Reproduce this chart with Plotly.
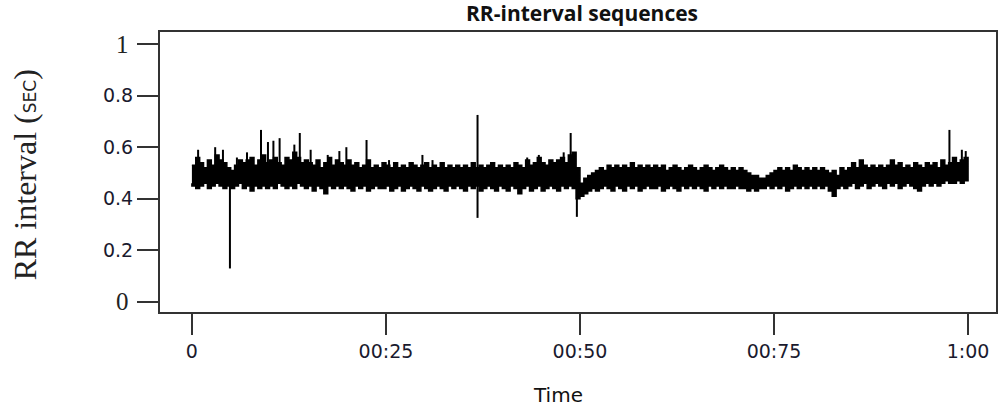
import plotly.graph_objects as go

# ---- data ----
step = 0.005
upper = [0.53,0.56,0.54,0.52,0.55,0.53,0.57,0.55,0.54,0.52,
         0.51,0.53,0.55,0.54,0.55,0.56,0.53,0.55,0.57,0.54,
         0.55,0.56,0.54,0.53,0.56,0.55,0.58,0.56,0.54,0.55,
         0.54,0.53,0.55,0.52,0.54,0.56,0.53,0.55,0.54,0.53,
         0.55,0.53,0.54,0.52,0.53,0.55,0.52,0.53,0.52,0.54,
         0.53,0.52,0.54,0.52,0.53,0.52,0.54,0.53,0.52,0.53,
         0.54,0.52,0.53,0.52,0.54,0.52,0.53,0.52,0.53,0.52,
         0.53,0.52,0.54,0.52,0.53,0.52,0.53,0.54,0.52,0.53,
         0.52,0.53,0.52,0.54,0.53,0.52,0.55,0.53,0.54,0.56,
         0.54,0.53,0.55,0.54,0.55,0.56,0.54,0.57,0.58,0.52,
         0.46,0.48,0.49,0.50,0.51,0.52,0.51,0.53,0.52,0.53,
         0.52,0.53,0.52,0.54,0.52,0.53,0.52,0.53,0.52,0.53,
         0.52,0.53,0.51,0.52,0.53,0.52,0.51,0.52,0.53,0.52,
         0.51,0.52,0.53,0.52,0.51,0.52,0.53,0.52,0.51,0.52,
         0.51,0.52,0.51,0.50,0.49,0.49,0.48,0.48,0.49,0.50,
         0.51,0.52,0.51,0.52,0.51,0.53,0.52,0.51,0.52,0.51,
         0.52,0.51,0.52,0.51,0.50,0.51,0.49,0.52,0.51,0.52,
         0.54,0.52,0.55,0.53,0.52,0.53,0.52,0.53,0.52,0.53,
         0.55,0.53,0.54,0.52,0.53,0.52,0.54,0.53,0.52,0.54,
         0.53,0.54,0.52,0.55,0.53,0.54,0.56,0.54,0.55,0.56,0.55]
lower = [0.46,0.45,0.44,0.45,0.46,0.44,0.45,0.46,0.45,0.44,
         0.45,0.44,0.45,0.46,0.44,0.45,0.43,0.45,0.44,0.45,
         0.44,0.45,0.44,0.46,0.45,0.44,0.45,0.44,0.46,0.45,
         0.44,0.45,0.43,0.45,0.44,0.42,0.45,0.44,0.45,0.44,
         0.45,0.44,0.43,0.45,0.44,0.45,0.43,0.44,0.45,0.44,
         0.44,0.45,0.43,0.44,0.45,0.43,0.44,0.45,0.44,0.43,
         0.45,0.44,0.43,0.44,0.45,0.44,0.43,0.45,0.44,0.45,
         0.44,0.43,0.45,0.44,0.45,0.43,0.44,0.45,0.44,0.43,
         0.45,0.44,0.43,0.45,0.44,0.42,0.44,0.45,0.43,0.44,
         0.45,0.43,0.44,0.45,0.44,0.43,0.45,0.44,0.45,0.44,
         0.40,0.41,0.42,0.43,0.44,0.43,0.44,0.45,0.44,0.43,
         0.45,0.44,0.43,0.45,0.44,0.45,0.43,0.44,0.45,0.44,
         0.44,0.45,0.43,0.44,0.45,0.44,0.43,0.45,0.44,0.45,
         0.44,0.45,0.44,0.43,0.45,0.44,0.45,0.44,0.45,0.44,
         0.44,0.45,0.44,0.44,0.43,0.44,0.43,0.44,0.44,0.45,
         0.44,0.45,0.44,0.45,0.43,0.44,0.45,0.44,0.45,0.44,
         0.45,0.44,0.45,0.44,0.45,0.43,0.41,0.44,0.45,0.44,
         0.45,0.46,0.44,0.45,0.46,0.44,0.45,0.46,0.45,0.44,
         0.46,0.45,0.46,0.44,0.45,0.46,0.45,0.44,0.43,0.45,
         0.46,0.45,0.46,0.45,0.46,0.47,0.46,0.46,0.47,0.46,0.47]

spike_t  = [0.008,0.030,0.040,0.049,0.058,0.071,0.089,0.098,0.105,0.113,0.132,0.139,
            0.153,0.175,0.190,0.199,0.225,0.254,0.297,0.310,0.368,0.432,0.447,0.479,
            0.488,0.496,0.976,0.992,0.997]
spike_lo = [0.50,0.50,0.50,0.13,0.50,0.50,0.50,0.50,0.50,0.50,0.50,0.50,
            0.50,0.50,0.50,0.50,0.50,0.50,0.50,0.50,0.326,0.50,0.50,0.50,
            0.50,0.33,0.50,0.50,0.50]
spike_hi = [0.59,0.60,0.59,0.48,0.56,0.58,0.667,0.62,0.625,0.635,0.61,0.655,
            0.59,0.57,0.585,0.60,0.628,0.55,0.57,0.55,0.725,0.56,0.57,0.58,
            0.655,0.48,0.667,0.59,0.585]

x_tickvals = [0, 0.25, 0.5, 0.75, 1]
x_ticktext = ["0", "00:25", "00:50", "00:75", "1:00"]
y_tickvals = [0, 0.2, 0.4, 0.6, 0.8, 1]
y_ticktext = ["", "0.2", "0.4", "0.6", "0.8", ""]
y_serif_vals = [0, 1]
y_serif_text = ["0", "1"]

# ---- build figure ----
t_up = [i * step for i in range(len(upper))]
t_lo = [i * step for i in range(len(lower))]

fig = go.Figure()
fig.add_trace(go.Scatter(
    x=t_up + t_lo[::-1], y=upper + lower[::-1],
    fill="toself", fillcolor="black", mode="lines", line_shape="hv",
    line=dict(color="black", width=1.5), hoverinfo="skip", showlegend=False))

sx, sy = [], []
for t, lo, hi in zip(spike_t, spike_lo, spike_hi):
    sx += [t, t, None]
    sy += [lo, hi, None]
fig.add_trace(go.Scatter(x=sx, y=sy, mode="lines",
                         line=dict(color="black", width=2),
                         hoverinfo="skip", showlegend=False))

axis_common = dict(showgrid=False, zeroline=False, showline=True, mirror=True,
                   linecolor="#333", linewidth=2, ticks="outside", ticklen=21,
                   tickwidth=2, tickcolor="#333",
                   tickfont=dict(family="DejaVu Sans", size=19, color="#1a1a2e"))
fig.update_xaxes(range=[-0.0411, 1.036], tickvals=x_tickvals, ticktext=x_ticktext,
                 **axis_common)
fig.update_yaxes(range=[-0.0388, 1.0465], tickvals=y_tickvals, ticktext=y_ticktext,
                 **axis_common)

L, R, T, B = 160, 4, 32, 96
W, H = 1002, 408
pw, ph = W - L - R, H - T - B

def px(x):
    return (x - L) / pw

def py(y):
    return (H - B - y) / ph

for v, s in zip(y_serif_vals, y_serif_text):
    fig.add_annotation(text=s, xref="paper", yref="y", x=px(131), y=v,
                       showarrow=False, xanchor="right", yanchor="middle",
                       font=dict(family="Liberation Serif", size=25, color="#222"))

fig.add_annotation(text="<b>RR-interval sequences</b>", xref="paper", yref="paper",
                   x=px(583), y=py(13), showarrow=False,
                   font=dict(family="Open Sans", size=21, color="#111"),
                   xanchor="center", yanchor="middle")
fig.add_annotation(text="Time", xref="paper", yref="paper",
                   x=px(559), y=py(395), showarrow=False,
                   font=dict(family="DejaVu Sans", size=20, color="#111"),
                   xanchor="center", yanchor="middle")
fig.add_annotation(text="RR interval (<span style=\"font-family:'DejaVu Sans';font-size:17px\">SEC</span>)",
                   xref="paper", yref="paper", x=px(25), y=py(175), showarrow=False,
                   textangle=-90,
                   font=dict(family="Liberation Serif", size=32, color="#222"),
                   xanchor="center", yanchor="middle")

fig.update_layout(width=W, height=H, margin=dict(l=L, r=R, t=T, b=B),
                  plot_bgcolor="white", paper_bgcolor="white", showlegend=False)
fig.write_html("out.html")
